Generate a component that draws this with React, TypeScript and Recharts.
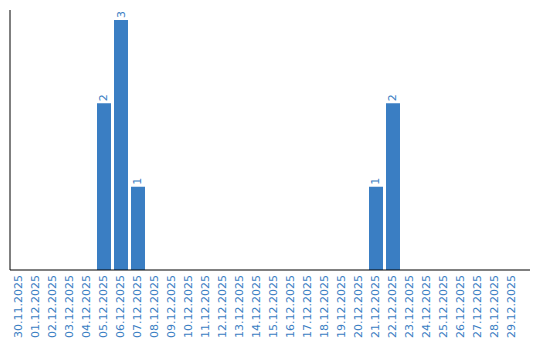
import React from 'react'
import { BarChart, Bar, XAxis, YAxis, LabelList } from 'recharts'

const dates = [
    '30.11.2025', '01.12.2025', '02.12.2025', '03.12.2025', '04.12.2025',
    '05.12.2025', '06.12.2025', '07.12.2025', '08.12.2025', '09.12.2025',
    '10.12.2025', '11.12.2025', '12.12.2025', '13.12.2025', '14.12.2025',
    '15.12.2025', '16.12.2025', '17.12.2025', '18.12.2025', '19.12.2025',
    '20.12.2025', '21.12.2025', '22.12.2025', '23.12.2025', '24.12.2025',
    '25.12.2025', '26.12.2025', '27.12.2025', '28.12.2025', '29.12.2025',
]

const counts = [
    0, 0, 0, 0, 0,
    2, 3, 1, 0, 0,
    0, 0, 0, 0, 0,
    0, 0, 0, 0, 0,
    0, 1, 2, 0, 0,
    0, 0, 0, 0, 0,
]

const BLUE = '#3a7ec3'
const FONT = '"DejaVu Sans", Verdana, sans-serif'

const data = dates.map((date, i) => ({ date, count: counts[i] }))

// x tick text is rotated so it reads bottom-to-top
const DateTick = (props: any) => {
    const { x, payload } = props
    const ty = 275
    return (
        <text
            x={x}
            y={ty}
            transform={`rotate(-90, ${x}, ${ty})`}
            textAnchor="end"
            dominantBaseline="central"
            fill={BLUE}
            fontSize={11}
            fontFamily={FONT}
        >
            {payload.value}
        </text>
    )
}

const ValueLabel = (props: any) => {
    const { x, y, width, value } = props
    if (!value) return null
    const cx = x + width / 2
    const cy = y - 2
    return (
        <text
            x={cx}
            y={cy}
            transform={`rotate(-90, ${cx}, ${cy})`}
            textAnchor="start"
            dominantBaseline="central"
            fill={BLUE}
            fontSize={11}
            fontFamily={FONT}
        >
            {value}
        </text>
    )
}

export default function App() {
    return (
        <div style={{ position: 'absolute', left: 0, top: 0 }}>
            <BarChart
                width={540}
                height={340}
                data={data}
                margin={{ top: 10, right: 10, bottom: 0, left: 0 }}
            >
                <XAxis
                    dataKey="date"
                    interval={0}
                    height={70}
                    tickLine={false}
                    axisLine={{ stroke: '#000' }}
                    tick={<DateTick />}
                    padding={{ left: 0, right: 10 }}
                />
                <YAxis
                    width={10}
                    domain={[0, 3]}
                    tick={false}
                    tickLine={false}
                    axisLine={{ stroke: '#000' }}
                    padding={{ top: 10, bottom: 0 }}
                />
                <Bar dataKey="count" fill={BLUE} barSize={14} isAnimationActive={false}>
                    <LabelList dataKey="count" content={<ValueLabel />} />
                </Bar>
            </BarChart>
        </div>
    )
}
